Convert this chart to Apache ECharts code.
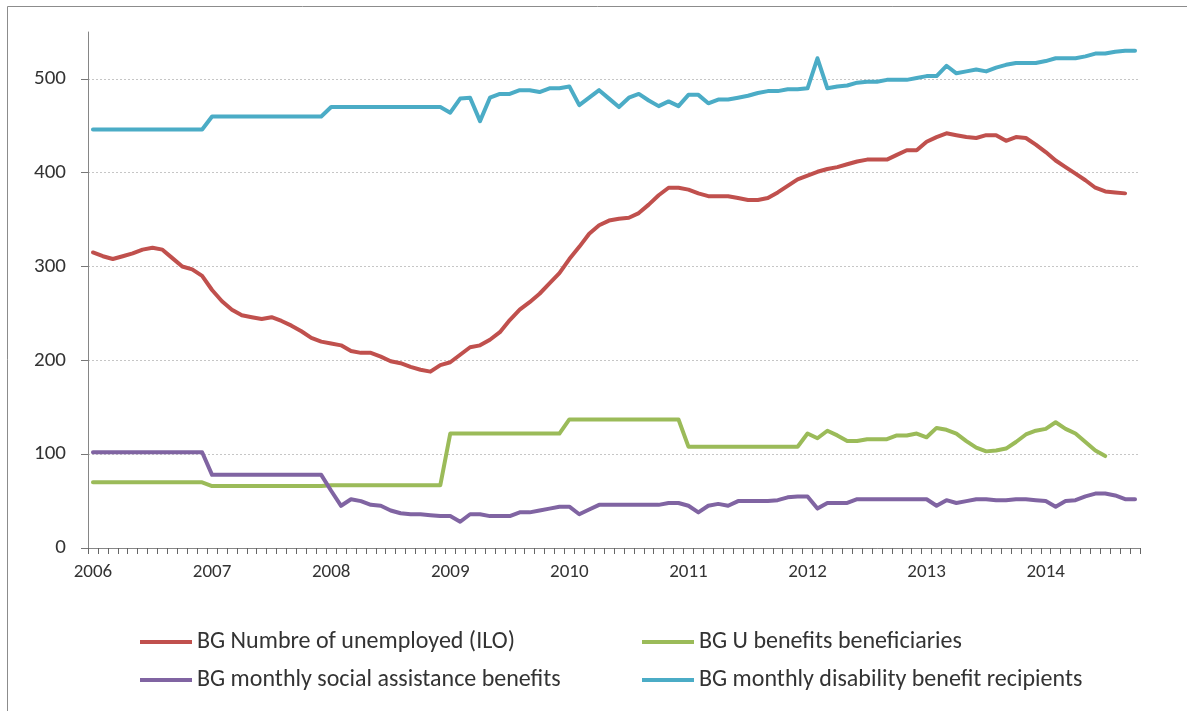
<!DOCTYPE html>
<html>
<head>
<meta charset="utf-8">
<title>BG unemployment and benefits</title>
<script src="https://cdn.jsdelivr.net/npm/echarts@6/dist/echarts.min.js"></script>
<style>
  html, body { margin: 0; padding: 0; background: #fff; }
  #main { width: 1187px; height: 711px; }
</style>
</head>
<body>
<div id="main"></div>
<script>
// months Jan 2006 .. Oct 2014
var months = [
  '2006-01','2006-02','2006-03','2006-04','2006-05','2006-06','2006-07','2006-08','2006-09','2006-10','2006-11','2006-12',
  '2007-01','2007-02','2007-03','2007-04','2007-05','2007-06','2007-07','2007-08','2007-09','2007-10','2007-11','2007-12',
  '2008-01','2008-02','2008-03','2008-04','2008-05','2008-06','2008-07','2008-08','2008-09','2008-10','2008-11','2008-12',
  '2009-01','2009-02','2009-03','2009-04','2009-05','2009-06','2009-07','2009-08','2009-09','2009-10','2009-11','2009-12',
  '2010-01','2010-02','2010-03','2010-04','2010-05','2010-06','2010-07','2010-08','2010-09','2010-10','2010-11','2010-12',
  '2011-01','2011-02','2011-03','2011-04','2011-05','2011-06','2011-07','2011-08','2011-09','2011-10','2011-11','2011-12',
  '2012-01','2012-02','2012-03','2012-04','2012-05','2012-06','2012-07','2012-08','2012-09','2012-10','2012-11','2012-12',
  '2013-01','2013-02','2013-03','2013-04','2013-05','2013-06','2013-07','2013-08','2013-09','2013-10','2013-11','2013-12',
  '2014-01','2014-02','2014-03','2014-04','2014-05','2014-06','2014-07','2014-08','2014-09','2014-10'
];

var seriesNames = [
  'BG Numbre of unemployed (ILO)',
  'BG U benefits beneficiaries',
  'BG monthly social assistance benefits',
  'BG monthly disability benefit recipients'
];

var unemployed = [
  315,311,308,311,314,318,320,318,309,300,297,290,
  275,263,254,248,246,244,246,242,237,231,224,220,
  218,216,210,208,208,204,199,197,193,190,188,195,
  198,206,214,216,222,230,243,254,262,271,282,293,
  308,321,335,344,349,351,352,357,366,376,384,384,
  382,378,375,375,375,373,371,371,373,379,386,393,
  397,401,404,406,409,412,414,414,414,419,424,424,
  433,438,442,440,438,437,440,440,434,438,437,430,
  422,413,406,399,392,384,380,379,378,null
];

var uBenefits = [
  70,70,70,70,70,70,70,70,70,70,70,70,
  66,66,66,66,66,66,66,66,66,66,66,66,
  67,67,67,67,67,67,67,67,67,67,67,67,
  122,122,122,122,122,122,122,122,122,122,122,122,
  137,137,137,137,137,137,137,137,137,137,137,137,
  108,108,108,108,108,108,108,108,108,108,108,108,
  122,117,125,120,114,114,116,116,116,120,120,122,
  118,128,126,122,114,107,103,104,106,113,121,125,
  127,134,127,122,113,104,98,null,null,null
];

var socialAssist = [
  102,102,102,102,102,102,102,102,102,102,102,102,
  78,78,78,78,78,78,78,78,78,78,78,78,
  61,45,52,50,46,45,40,37,36,36,35,34,
  34,28,36,36,34,34,34,38,38,40,42,44,
  44,36,41,46,46,46,46,46,46,46,48,48,
  45,38,45,47,45,50,50,50,50,51,54,55,
  55,42,48,48,48,52,52,52,52,52,52,52,
  52,45,51,48,50,52,52,51,51,52,52,51,
  50,44,50,51,55,58,58,56,52,52
];

var disability = [
  446,446,446,446,446,446,446,446,446,446,446,446,
  460,460,460,460,460,460,460,460,460,460,460,460,
  470,470,470,470,470,470,470,470,470,470,470,470,
  464,479,480,455,480,484,484,488,488,486,490,490,
  492,472,480,488,479,470,480,484,477,471,476,471,
  483,483,474,478,478,480,482,485,487,487,489,489,
  490,522,490,492,493,496,497,497,499,499,499,501,
  503,503,514,506,508,510,508,512,515,517,517,517,
  519,522,522,522,524,527,527,529,530,530
];

var colors = ['#C0504D', '#9BBB59', '#8064A2', '#4BACC6'];
var font = 'Carlito, Lato, sans-serif';
var textColor = '#333333';

var myChart = echarts.init(document.getElementById('main'));

function lineSeries(name, data, color) {
  return {
    name: name,
    type: 'line',
    xAxisIndex: 0,
    data: data,
    symbol: 'none',
    color: color,
    lineStyle: { width: 4, color: color, cap: 'round', join: 'round' },
    animation: false
  };
}

var legendBase = {
  orient: 'vertical',
  icon: 'rect',
  itemWidth: 52,
  itemHeight: 4,
  itemGap: 14,
  top: 625,
  textStyle: { fontFamily: font, fontSize: 24, color: textColor }
};

myChart.setOption({
  animation: false,
  color: colors,
  grid: { left: 88, right: 47, top: 32, bottom: 163, containLabel: false },
  graphic: [{
    type: 'rect',
    shape: { x: 7.5, y: 6.5, width: 1300, height: 800 },
    style: { fill: null, stroke: '#8c8c8c', lineWidth: 1 },
    silent: true
  }],
  legend: [
    Object.assign({}, legendBase, { left: 135, data: [seriesNames[0], seriesNames[2]] }),
    Object.assign({}, legendBase, { left: 637, data: [seriesNames[1], seriesNames[3]] })
  ],
  xAxis: [{
    type: 'category',
    data: months,
    boundaryGap: true,
    axisLine: { lineStyle: { color: '#868686', width: 1 } },
    axisTick: { show: false },
    axisLabel: {
      interval: 11,
      margin: 15,
      fontFamily: font,
      fontSize: 19,
      color: textColor,
      formatter: function (v) { return v.slice(0, 4); }
    },
    splitLine: { show: false }
  }, {
    // monthly tick marks along the bottom axis
    type: 'value',
    position: 'bottom',
    min: 0,
    max: months.length,
    interval: 1,
    axisLine: { show: false },
    axisTick: { show: true, inside: false, length: 6, lineStyle: { color: '#666666', width: 1 } },
    axisLabel: { show: false },
    splitLine: { show: false }
  }],
  yAxis: {
    type: 'value',
    min: 0,
    max: 550,
    interval: 100,
    axisLine: { show: true, lineStyle: { color: '#868686', width: 1 } },
    axisTick: { show: true, length: 7, lineStyle: { color: '#777777' } },
    axisLabel: {
      margin: 22,
      fontFamily: font,
      fontSize: 21,
      color: textColor,
      showMaxLabel: false
    },
    splitLine: {
      show: true,
      showMinLine: false,
      showMaxLine: false,
      lineStyle: { color: '#c6c6c6', width: 1, type: [2, 2] }
    }
  },
  series: [
    lineSeries(seriesNames[0], unemployed, colors[0]),
    lineSeries(seriesNames[1], uBenefits, colors[1]),
    lineSeries(seriesNames[2], socialAssist, colors[2]),
    lineSeries(seriesNames[3], disability, colors[3])
  ]
});

window.addEventListener('resize', function () {
  myChart.resize();
});
</script>
</body>
</html>
